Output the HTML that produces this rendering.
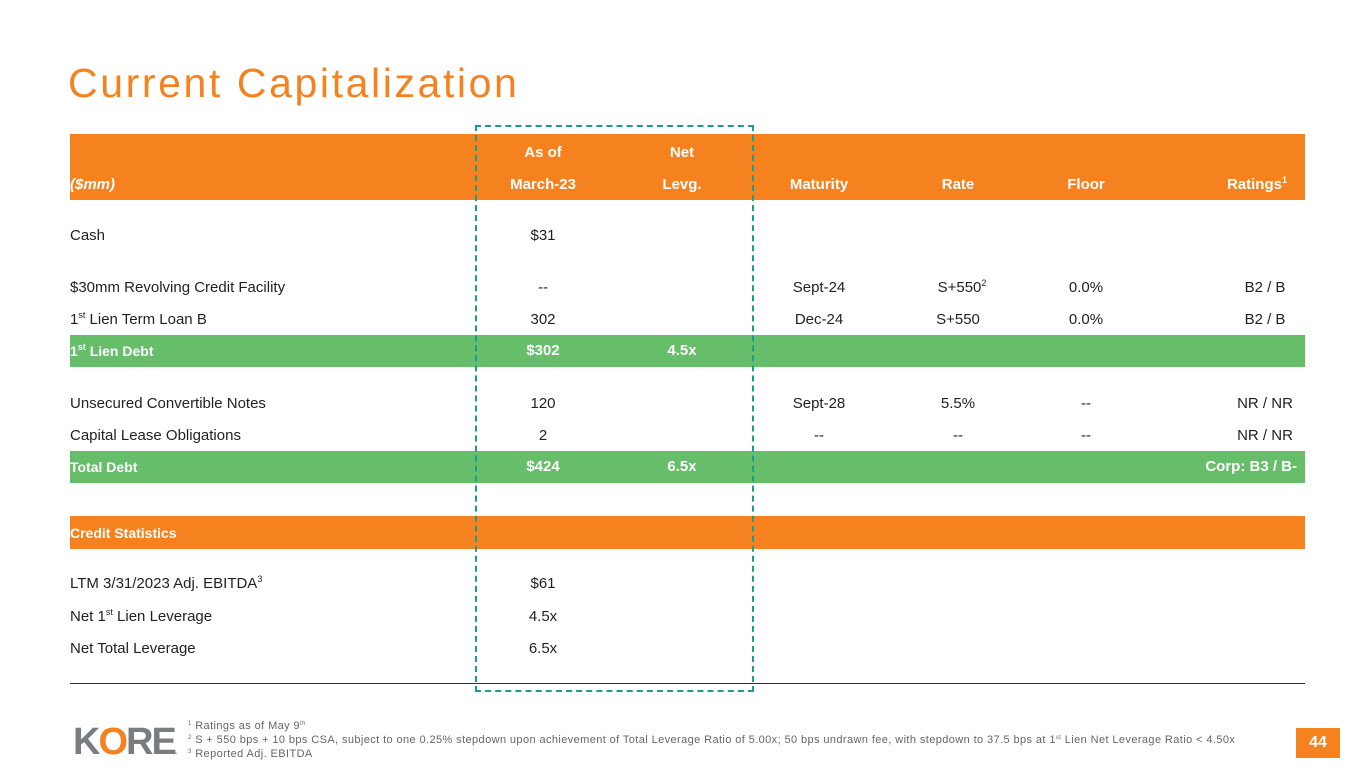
<!DOCTYPE html>
<html><head><meta charset="utf-8"><style>
body{margin:0;width:1365px;height:768px;background:#fff;position:relative;overflow:hidden;font-family:"Liberation Sans",sans-serif;color:#222}
.a{position:absolute;white-space:nowrap;font-size:15px;line-height:18px}
.c{transform:translateX(-50%)}
.r{transform:translateX(-100%)}
.w{color:#fff;font-weight:bold}
.bar{position:absolute;left:70px;width:1235px}
.s{font-size:9px;line-height:0;position:relative;top:-6px;vertical-align:baseline}
.f .s{font-size:6px;top:-4px}
</style></head><body>
<div class="a" style="left:68px;top:58px;font-size:41px;line-height:50px;color:#F5821F;letter-spacing:2.6px">Current Capitalization</div>
<div class="bar" style="top:134px;height:66px;background:#F5821F"></div>
<div class="bar" style="top:335px;height:32px;background:#66BD6A"></div>
<div class="bar" style="top:451px;height:32px;background:#66BD6A"></div>
<div class="bar" style="top:516px;height:33px;background:#F5821F"></div>
<div class="bar" style="top:683px;height:1px;background:#333"></div>
<div style="position:absolute;left:475px;top:125px;width:275px;height:563px;border:2px dashed #1A9E8A"></div>

<div class="a w c" style="left:543px;top:144px">As of</div>
<div class="a w c" style="left:682px;top:144px">Net</div>
<div class="a w" style="left:70px;top:176px;font-style:italic">($mm)</div>
<div class="a w c" style="left:543px;top:176px">March-23</div>
<div class="a w c" style="left:682px;top:176px">Levg.</div>
<div class="a w c" style="left:819px;top:176px">Maturity</div>
<div class="a w c" style="left:958px;top:176px">Rate</div>
<div class="a w c" style="left:1086px;top:176px">Floor</div>
<div class="a w r" style="left:1287px;top:176px">Ratings<span class="s">1</span></div>

<div class="a" style="left:70px;top:227px">Cash</div><div class="a c" style="left:543px;top:227px">$31</div>

<div class="a" style="left:70px;top:279px">$30mm Revolving Credit Facility</div><div class="a c" style="left:543px;top:279px">--</div>
<div class="a c" style="left:819px;top:279px">Sept-24</div><div class="a c" style="left:962px;top:279px">S+550<span class="s">2</span></div><div class="a c" style="left:1086px;top:279px">0.0%</div><div class="a c" style="left:1265px;top:279px">B2 / B</div>

<div class="a" style="left:70px;top:311px">1<span class="s">st</span> Lien Term Loan B</div><div class="a c" style="left:543px;top:311px">302</div>
<div class="a c" style="left:819px;top:311px">Dec-24</div><div class="a c" style="left:958px;top:311px">S+550</div><div class="a c" style="left:1086px;top:311px">0.0%</div><div class="a c" style="left:1265px;top:311px">B2 / B</div>

<div class="a w" style="left:70px;top:342px;font-size:14px">1<span class="s">st</span> Lien Debt</div><div class="a w c" style="left:543px;top:342px">$302</div><div class="a w c" style="left:682px;top:342px">4.5x</div>

<div class="a" style="left:70px;top:395px">Unsecured Convertible Notes</div><div class="a c" style="left:543px;top:395px">120</div>
<div class="a c" style="left:819px;top:395px">Sept-28</div><div class="a c" style="left:958px;top:395px">5.5%</div><div class="a c" style="left:1086px;top:395px">--</div><div class="a c" style="left:1265px;top:395px">NR / NR</div>

<div class="a" style="left:70px;top:427px">Capital Lease Obligations</div><div class="a c" style="left:543px;top:427px">2</div>
<div class="a c" style="left:819px;top:427px">--</div><div class="a c" style="left:958px;top:427px">--</div><div class="a c" style="left:1086px;top:427px">--</div><div class="a c" style="left:1265px;top:427px">NR / NR</div>

<div class="a w" style="left:70px;top:458px;font-size:14px">Total Debt</div><div class="a w c" style="left:543px;top:458px">$424</div><div class="a w c" style="left:682px;top:458px">6.5x</div><div class="a w r" style="left:1297px;top:458px">Corp: B3 / B-</div>

<div class="a w" style="left:70px;top:524px;font-size:14px">Credit Statistics</div>

<div class="a" style="left:70px;top:575px">LTM 3/31/2023 Adj. EBITDA<span class="s">3</span></div><div class="a c" style="left:543px;top:575px">$61</div>
<div class="a" style="left:70px;top:608px">Net 1<span class="s">st</span> Lien Leverage</div><div class="a c" style="left:543px;top:608px">4.5x</div>
<div class="a" style="left:70px;top:640px">Net Total Leverage</div><div class="a c" style="left:543px;top:640px">6.5x</div>

<div class="a" style="left:73px;top:722px;font-size:38px;line-height:40px;font-weight:bold;color:#7a7d80;letter-spacing:-2px">K<span style="color:#F5821F">O</span>RE<span style="font-size:8px">.</span></div>
<div class="a f" style="left:188px;top:719px;font-size:11px;line-height:14px;color:#666;letter-spacing:0.4px">
<span class="s">1</span> Ratings as of May 9<span class="s">th</span><br>
<span class="s">2</span> S + 550 bps + 10 bps CSA, subject to one 0.25% stepdown upon achievement of Total Leverage Ratio of 5.00x; 50 bps undrawn fee, with stepdown to 37.5 bps at 1<span class="s">st</span> Lien Net Leverage Ratio &lt; 4.50x<br>
<span class="s">3</span> Reported Adj. EBITDA</div>
<div style="position:absolute;left:1296px;top:728px;width:44px;height:30px;background:#F5821F;color:#fff;font-weight:bold;font-size:16px;line-height:30px;text-align:center">44</div>
</body></html>
